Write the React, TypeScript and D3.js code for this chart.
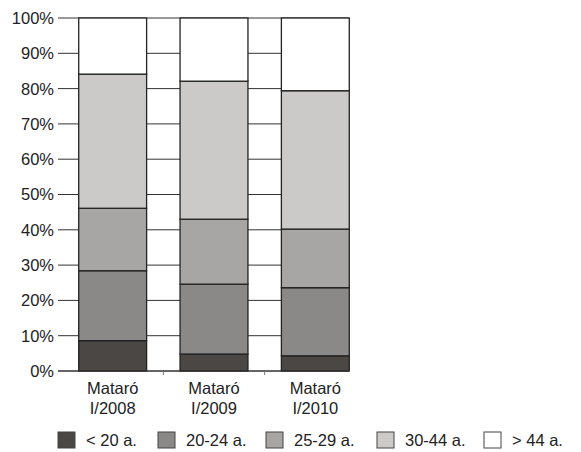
import React, { useRef, useEffect } from 'react';
import * as d3 from 'd3';

const categories = ['Mataró\nI/2008', 'Mataró\nI/2009', 'Mataró\nI/2010'];
const groups = ['< 20 a.', '20-24 a.', '25-29 a.', '30-44 a.', '> 44 a.'];
const under20 = [8.6, 4.8, 4.3];
const age20to24 = [19.8, 19.8, 19.3];
const age25to29 = [17.7, 18.4, 16.6];
const age30to44 = [38.0, 39.1, 39.2];
const over44 = [15.9, 17.9, 20.6];
const yTicks = [0, 10, 20, 30, 40, 50, 60, 70, 80, 90, 100];
const colors = ['#4a4745', '#8b8987', '#a8a6a4', '#cccac8', '#ffffff'];

export default function App() {
  const svgRef = useRef<SVGSVGElement>(null);

  useEffect(() => {
    if (!svgRef.current) return;
    const svg = d3.select(svgRef.current);
    svg.selectAll('*').remove();

    const width = 581;
    const height = 452;
    const font = '"Liberation Sans", Arial, sans-serif';
    const fontSize = '16.5px';

    svg.attr('width', width).attr('height', height);
    svg.append('rect').attr('width', width).attr('height', height).attr('fill', '#ffffff');

    const rows = categories.map((c, i) => ({
      cat: c,
      '< 20 a.': under20[i],
      '20-24 a.': age20to24[i],
      '25-29 a.': age25to29[i],
      '30-44 a.': age30to44[i],
      '> 44 a.': over44[i],
    }));

    const stacked = d3.stack<any>().keys(groups)(rows);

    const x = d3.scaleBand()
      .domain(categories)
      .range([62, 366])
      .paddingInner(0.33)
      .paddingOuter(0.165);

    const y = d3.scaleLinear().domain([0, 100]).range([371, 18]);

    const color = d3.scaleOrdinal<string>().domain(groups).range(colors);

    // gridlines
    svg.append('g')
      .selectAll('line')
      .data(yTicks)
      .enter()
      .append('line')
      .attr('x1', 58)
      .attr('x2', 349)
      .attr('y1', d => y(d))
      .attr('y2', d => y(d))
      .attr('stroke', '#333')
      .attr('stroke-width', 1);

    // y labels
    svg.append('g')
      .selectAll('text')
      .data(yTicks)
      .enter()
      .append('text')
      .attr('x', 54)
      .attr('y', d => y(d))
      .attr('dy', '0.36em')
      .attr('text-anchor', 'end')
      .style('font-family', font)
      .style('font-size', fontSize)
      .style('fill', '#222')
      .text(d => `${d}%`);

    // bars
    svg.append('g')
      .selectAll('g')
      .data(stacked)
      .enter()
      .append('g')
      .attr('fill', d => color(d.key))
      .selectAll('rect')
      .data(d => d)
      .enter()
      .append('rect')
      .attr('x', d => x(d.data.cat) || 0)
      .attr('width', x.bandwidth())
      .attr('y', d => y(d[1]))
      .attr('height', d => y(d[0]) - y(d[1]))
      .attr('stroke', '#222')
      .attr('stroke-width', 1.3);

    // bottom axis line + small ticks
    svg.append('line')
      .attr('x1', 58).attr('x2', 349)
      .attr('y1', y(0)).attr('y2', y(0))
      .attr('stroke', '#333');
    const step = x.step();
    svg.append('g')
      .selectAll('line')
      .data(categories.slice(1))
      .enter()
      .append('line')
      .attr('x1', d => (x(d) || 0) - (step - x.bandwidth()) / 2)
      .attr('x2', d => (x(d) || 0) - (step - x.bandwidth()) / 2)
      .attr('y1', y(0))
      .attr('y2', y(0) + 4)
      .attr('stroke', '#777');

    // x labels
    const xl = svg.append('g')
      .selectAll('text')
      .data(categories)
      .enter()
      .append('text')
      .attr('x', d => (x(d) || 0) + x.bandwidth() / 2)
      .attr('y', 394)
      .attr('text-anchor', 'middle')
      .style('font-family', font)
      .style('font-size', fontSize)
      .style('fill', '#222');
    xl.selectAll('tspan')
      .data(d => d.split('\n'))
      .enter()
      .append('tspan')
      .attr('x', function () {
        return d3.select((this as any).parentNode).attr('x');
      })
      .attr('dy', (_, i) => (i === 0 ? 0 : 20))
      .text(d => d);

    // legend
    const legendX = [58, 158, 266, 377, 484];
    const leg = svg.append('g')
      .selectAll('g')
      .data(groups)
      .enter()
      .append('g')
      .attr('transform', (_, i) => `translate(${legendX[i]},432)`);
    leg.append('rect')
      .attr('width', 17)
      .attr('height', 16)
      .attr('fill', d => color(d))
      .attr('stroke', '#444')
      .attr('stroke-width', 1);
    leg.append('text')
      .attr('x', 28)
      .attr('y', 8)
      .attr('dy', '0.36em')
      .style('font-family', font)
      .style('font-size', fontSize)
      .style('fill', '#222')
      .text(d => d);
  }, []);

  return (
    <div style={{ width: 581, height: 452, position: 'absolute', left: 0, top: 0 }}>
      <svg ref={svgRef} style={{ display: 'block' }} />
    </div>
  );
}
